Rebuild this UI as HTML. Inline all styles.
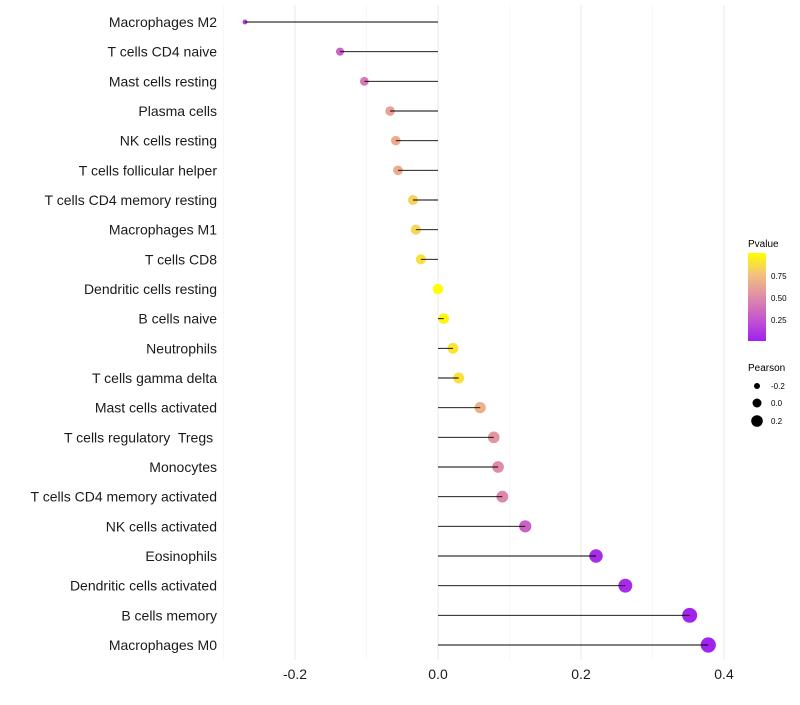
<!DOCTYPE html>
<html><head><meta charset="utf-8"><style>
body{margin:0;background:#fff;font-family:"Liberation Sans",sans-serif}
svg text{font-family:"Liberation Sans",sans-serif;white-space:pre}
</style></head><body>
<svg id="chart" width="800" height="700" xmlns="http://www.w3.org/2000/svg">
<defs>
<linearGradient id="pg" x1="0" y1="1" x2="0" y2="0">
<stop offset="0" stop-color="#a020f0"/><stop offset="0.25" stop-color="#c456cf"/>
<stop offset="0.5" stop-color="#df8ca8"/><stop offset="0.75" stop-color="#f2c07e"/>
<stop offset="1" stop-color="#ffff00"/></linearGradient>
</defs>
<g id="grid"></g>
<g id="marks"></g>
<g id="labels"></g>
<g>
<text x="748" y="247" font-size="10">Pvalue</text>
<rect x="748" y="253" width="18" height="88" fill="url(#pg)"/>
<text x="771" y="279" font-size="8">0.75</text>
<text x="771" y="301" font-size="8">0.50</text>
<text x="771" y="323" font-size="8">0.25</text>
</g>
<g>
<text x="748" y="371" font-size="10">Pearson</text>
<circle cx="757" cy="386" r="3" fill="#000"/>
<circle cx="757" cy="403" r="4.5" fill="#000"/>
<circle cx="757" cy="421" r="5.8" fill="#000"/>
<text x="771" y="389" font-size="8">-0.2</text>
<text x="771" y="406" font-size="8">0.0</text>
<text x="771" y="424" font-size="8">0.2</text>
</g>
</svg>
<script>
const cells=["Macrophages M2","T cells CD4 naive","Mast cells resting","Plasma cells","NK cells resting","T cells follicular helper","T cells CD4 memory resting","Macrophages M1","T cells CD8","Dendritic cells resting","B cells naive","Neutrophils","T cells gamma delta","Mast cells activated","T cells regulatory  Tregs ","Monocytes","T cells CD4 memory activated","NK cells activated","Eosinophils","Dendritic cells activated","B cells memory","Macrophages M0"];
const pearson=[-0.270,-0.137,-0.103,-0.067,-0.059,-0.056,-0.035,-0.031,-0.024,0.0,0.008,0.021,0.029,0.059,0.078,0.084,0.090,0.122,0.221,0.262,0.352,0.378];
const pvalue=[0.15,0.3,0.42,0.6,0.65,0.65,0.82,0.84,0.88,1.0,0.97,0.9,0.88,0.68,0.55,0.5,0.48,0.3,0.06,0.05,0.02,0.01];
const ticks=[-0.2,0,0.2,0.4];
const tickLabels=["-0.2","0.0","0.2","0.4"];
const minor=[-0.3,-0.1,0.1,0.3];
const NS="http://www.w3.org/2000/svg";
const x=v=>438+v*715;
const y=i=>22+i*(623/21);
const stops=[[0,[160,32,240]],[0.25,[196,86,207]],[0.5,[223,140,168]],[0.75,[242,192,126]],[1,[255,255,0]]];
function col(p){for(let k=1;k<stops.length;k++){if(p<=stops[k][0]){const a=stops[k-1],b=stops[k],t=(p-a[0])/(b[0]-a[0]);return "rgb("+a[1].map((c,j)=>Math.round(c+(b[1][j]-c)*t)).join(",")+")";}}return "rgb(255,255,0)";}
const rad=v=>Math.sqrt(Math.max(2.5,6+(v+0.27)*80));
function mk(t,a,p){const e=document.createElementNS(NS,t);for(const k in a)e.setAttribute(k,a[k]);p.appendChild(e);return e;}
const g=document.getElementById('grid'),m=document.getElementById('marks'),L=document.getElementById('labels');
minor.forEach(v=>{const l=mk('line',{x1:x(v),x2:x(v),y1:5,y2:660,stroke:'#f2f2f2','stroke-width':0.6},g);

});
ticks.forEach((v,i)=>{const l=mk('line',{x1:x(v),x2:x(v),y1:5,y2:660,stroke:'#ebebeb','stroke-width':1.1},g);


const t=mk('text',{x:x(v),y:679,'font-size':14,'text-anchor':'middle',fill:'#1a1a1a'},g);t.textContent=tickLabels[i];

});
cells.forEach((c,i)=>{const yy=y(i);
const t=mk('text',{x:217,y:yy+5,'font-size':14,'text-anchor':'end',fill:'#1a1a1a'},L);t.textContent=c;


const cc=mk('circle',{cx:x(pearson[i]),cy:yy,r:rad(pearson[i]),fill:col(pvalue[i])},m);


const l=mk('line',{x1:x(pearson[i]),x2:x(0),y1:yy,y2:yy,stroke:'#000','stroke-width':0.9},m);

});
</script>
</body></html>
